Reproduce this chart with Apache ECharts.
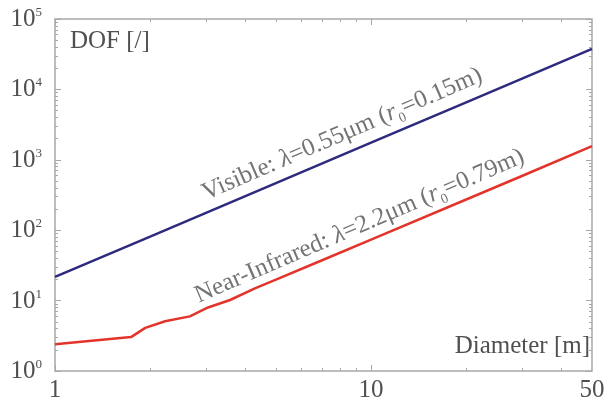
<!DOCTYPE html>
<html>
<head>
<meta charset="utf-8">
<script src="https://cdn.jsdelivr.net/npm/echarts@6/dist/echarts.min.js"></script>
<style>
  html, body { margin: 0; padding: 0; background: #fff; }
  #chart { width: 614px; height: 403px; }
</style>
</head>
<body>
<div id="chart"></div>
<script>
// Telescope diameter (m) and depth of field for two wavelengths
const diameterVisible = [1, 2, 5, 10, 20, 50];
const dofVisible = [21.7, 81, 467, 1750, 6560, 37700];

const diameterNIR = [1, 1.74, 1.93, 2.23, 2.67, 3.05, 3.58, 4.29, 5, 7, 10, 20, 30, 50];
const dofNIR = [2.4, 3.03, 4.1, 5.08, 5.97, 7.98, 10.2, 14.9, 19.8, 37.4, 73.6, 273, 589, 1560];

// Tick values
const xMajorTicks = [1, 10];
const xMinorTicks = [2, 3, 4, 5, 6, 7, 8, 9, 20, 30, 40];
const xTickLabels = [1, 10, 50];
const yMajorTicks = [1, 10, 100, 1000, 10000, 100000];
const yMinorTicks = [];
yMajorTicks.slice(0, -1).forEach(function (d) {
  for (let k = 2; k <= 9; k++) yMinorTicks.push(d * k);
});

const FONT = '"Liberation Serif", "DejaVu Serif", serif';
const TEXT = '#505050';
const AXIS = '#a8a8a8';

const chart = echarts.init(document.getElementById('chart'));

function xAxisDef(pos, ticks, len, labels) {
  return {
    type: 'log', logBase: 10, min: 1, max: 50, position: pos, gridIndex: 0,
    axisLine: { show: false },
    splitLine: { show: false },
    axisTick: { show: true, inside: true, length: len, customValues: ticks,
                lineStyle: { color: AXIS, width: 1 } },
    axisLabel: labels ? {
      show: true, customValues: xTickLabels, margin: 7,
      fontFamily: FONT, fontSize: 25, color: TEXT,
      formatter: function (v) { return String(Math.round(v)); }
    } : { show: false }
  };
}

function yAxisDef(pos, ticks, len, labels) {
  return {
    type: 'log', logBase: 10, min: 1, max: 100000, position: pos, gridIndex: 0,
    axisLine: { show: false },
    splitLine: { show: false },
    axisTick: { show: true, inside: true, length: len, customValues: ticks,
                lineStyle: { color: AXIS, width: 1 } },
    axisLabel: labels ? {
      show: true, customValues: yMajorTicks, margin: 13,
      formatter: function (v) {
        return '{b|10}{s|' + Math.round(Math.log10(v)) + '}';
      },
      rich: {
        b: { fontFamily: FONT, fontSize: 25, color: TEXT, lineHeight: 26, verticalAlign: 'bottom' },
        s: { fontFamily: FONT, fontSize: 13, color: TEXT, lineHeight: 26, verticalAlign: 'top' }
      }
    } : { show: false }
  };
}

const curveLabelRich = {
  t: { fontFamily: FONT, fontSize: 25, color: TEXT, lineHeight: 28 },
  i: { fontFamily: FONT, fontSize: 25, color: TEXT, fontStyle: 'italic', lineHeight: 28 },
  sub: { fontFamily: FONT, fontSize: 14, color: TEXT, lineHeight: 28, verticalAlign: 'bottom', padding: [0, 0, -2, 0] }
};

// Anchors for the annotation text along each curve
const visibleLabelAt = [8.1, 2300];
const nirLabelAt = [9.2, 114];
const labelAngle = 23.3;

chart.setOption({
  animation: false,
  backgroundColor: '#ffffff',
  grid: {
    left: 55, right: 22, top: 19, bottom: 28,
    show: true, borderColor: AXIS, borderWidth: 1.5, backgroundColor: 'transparent'
  },
  xAxis: [
    xAxisDef('bottom', xMajorTicks, 6, true),
    xAxisDef('bottom', xMinorTicks, 3, false),
    xAxisDef('top', xMajorTicks, 6, false),
    xAxisDef('top', xMinorTicks, 3, false)
  ],
  yAxis: [
    yAxisDef('left', yMajorTicks, 6, true),
    yAxisDef('left', yMinorTicks, 3, false),
    yAxisDef('right', yMajorTicks, 6, false),
    yAxisDef('right', yMinorTicks, 3, false)
  ],
  series: [
    {
      name: 'Visible', type: 'line', xAxisIndex: 0, yAxisIndex: 0,
      data: diameterVisible.map(function (d, i) { return [d, dofVisible[i]]; }),
      showSymbol: false, symbol: 'none',
      lineStyle: { color: '#2e2a7e', width: 2.5 }
    },
    {
      name: 'Near-Infrared', type: 'line', xAxisIndex: 0, yAxisIndex: 0,
      data: diameterNIR.map(function (d, i) { return [d, dofNIR[i]]; }),
      showSymbol: false, symbol: 'none',
      lineStyle: { color: '#e3342c', width: 2.5 }
    },
    {
      type: 'scatter', xAxisIndex: 0, yAxisIndex: 0, symbolSize: 0, silent: true,
      data: [
        {
          value: visibleLabelAt,
          label: {
            show: true, position: 'inside', rotate: labelAngle,
            formatter: '{t|Visible: }{i|λ}{t|=0.55μm (}{i|r}{sub|0}{t|=0.15m)}',
            rich: curveLabelRich
          }
        },
        {
          value: nirLabelAt,
          label: {
            show: true, position: 'inside', rotate: labelAngle,
            formatter: '{t|Near-Infrared: }{i|λ}{t|=2.2μm (}{i|r}{sub|0}{t|=0.79m)}',
            rich: curveLabelRich
          }
        }
      ]
    }
  ],
  graphic: [
    {
      type: 'text', left: 70, top: 29,
      style: { text: 'DOF [/]', font: '25px ' + FONT, fill: TEXT }
    },
    {
      type: 'text', right: 24, top: 334,
      style: { text: 'Diameter [m]', font: '25px ' + FONT, fill: TEXT }
    }
  ]
});
</script>
</body>
</html>
